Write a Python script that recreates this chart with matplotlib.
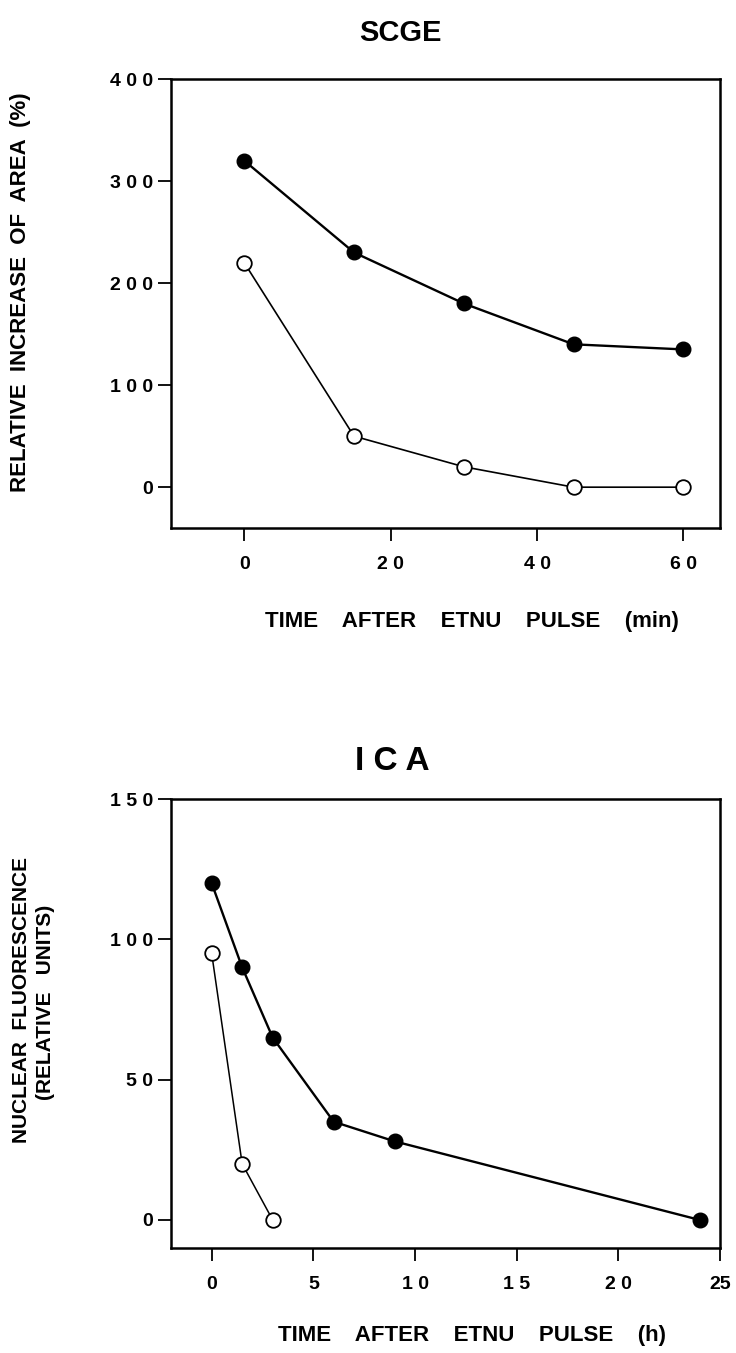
import matplotlib
matplotlib.use("Agg")
import matplotlib.pyplot as plt

plt.rcParams['font.family'] = ['Liberation Sans', 'DejaVu Sans']

# SCGE panel (minutes after pulse)
scge_time = [0, 15, 30, 45, 60]
scge_filled = [320, 230, 180, 140, 135]
scge_open = [220, 50, 20, 0, 0]
scge_xticks = [0, 20, 40, 60]
scge_xticklabels = ["0", "2 0", "4 0", "6 0"]
scge_yticks = [0, 100, 200, 300, 400]
scge_yticklabels = ["0", "1 0 0", "2 0 0", "3 0 0", "4 0 0"]

# ICA panel (hours after pulse)
ica_time_filled = [0, 1.5, 3, 6, 9, 24]
ica_filled = [120, 90, 65, 35, 28, 0]
ica_time_open = [0, 1.5, 3]
ica_open = [95, 20, 0]
ica_xticks = [0, 5, 10, 15, 20, 25]
ica_xticklabels = ["0", "5", "1 0", "1 5", "2 0", "25"]
ica_yticks = [0, 50, 100, 150]
ica_yticklabels = ["0", "5 0", "1 0 0", "1 5 0"]

W, H = 736, 1353
fig = plt.figure(figsize=(W / 100, H / 100), dpi=100)


def box(x0, y0, x1, y1):
    return [x0 / W, 1 - y1 / H, (x1 - x0) / W, (y1 - y0) / H]


def style(ax):
    for s in ax.spines.values():
        s.set_linewidth(1.8)
    ax.tick_params(direction='out', length=9.5, width=1.3, pad=3.5,
                   labelsize=14)
    ax.tick_params(axis='x', pad=11)
    for lab in ax.get_xticklabels() + ax.get_yticklabels():
        lab.set_fontweight('bold')


ax1 = fig.add_axes(box(171, 79, 720, 528))
ax1.plot(scge_time, scge_filled, '-o', color='black', lw=1.7, ms=10.5,
         mfc='black', mec='black')
ax1.plot(scge_time, scge_open, '-o', color='black', lw=1.2, ms=10.5,
         mfc='white', mec='black', mew=1.3)
ax1.set_xlim(-10, 65)
ax1.set_ylim(-40, 400)
ax1.set_xticks(scge_xticks)
ax1.set_xticklabels(scge_xticklabels)
ax1.set_yticks(scge_yticks)
ax1.set_yticklabels(scge_yticklabels)
style(ax1)

ax2 = fig.add_axes(box(171, 799, 720, 1248))
ax2.plot(ica_time_filled, ica_filled, '-o', color='black', lw=1.7, ms=10.5,
         mfc='black', mec='black')
ax2.plot(ica_time_open, ica_open, '-o', color='black', lw=1.1, ms=10.5,
         mfc='white', mec='black', mew=1.3)
ax2.set_xlim(-2, 25)
ax2.set_ylim(-10, 150)
ax2.set_xticks(ica_xticks)
ax2.set_xticklabels(ica_xticklabels)
ax2.set_yticks(ica_yticks)
ax2.set_yticklabels(ica_yticklabels)
style(ax2)

fig.text(400 / W, 1 - 33 / H, "SCGE", ha='center', va='center',
         fontsize=21, fontweight='bold')
fig.text(392 / W, 1 - 762 / H, "I C A", ha='center', va='center',
         fontsize=24, fontweight='bold')

fig.text(21 / W, 1 - 292 / H, "RELATIVE  INCREASE  OF  AREA  (%)",
         rotation=90, ha='center', va='center', fontsize=16,
         fontweight='bold')
fig.text(472 / W, 1 - 622 / H, "TIME    AFTER    ETNU    PULSE    (min)",
         ha='center', va='center', fontsize=16, fontweight='bold')

fig.text(22 / W, 1 - 1000 / H, "NUCLEAR  FLUORESCENCE",
         rotation=90, ha='center', va='center', fontsize=15,
         fontweight='bold')
fig.text(46 / W, 1 - 1002 / H, "(RELATIVE   UNITS)",
         rotation=90, ha='center', va='center', fontsize=15,
         fontweight='bold')
fig.text(472 / W, 1 - 1335 / H, "TIME    AFTER    ETNU    PULSE    (h)",
         ha='center', va='center', fontsize=16, fontweight='bold')

fig.savefig("out.png", dpi=100, facecolor='white')
